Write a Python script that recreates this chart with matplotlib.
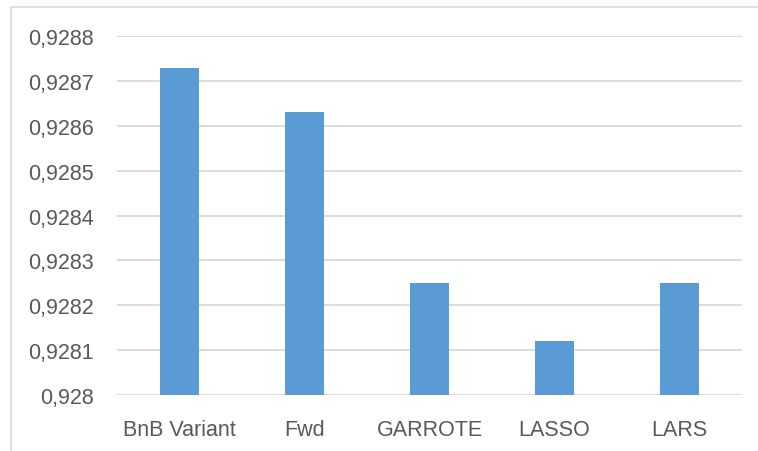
import matplotlib.pyplot as plt
from matplotlib.patches import Rectangle
from matplotlib.ticker import FuncFormatter

methods = ["BnB Variant", "Fwd", "GARROTE", "LASSO", "LARS"]
scores = [0.928729, 0.92863, 0.92825, 0.92812, 0.92825]
y_ticks = [0.928, 0.9281, 0.9282, 0.9283, 0.9284, 0.9285, 0.9286, 0.9287, 0.9288]

plt.rcParams['font.family'] = ['Liberation Sans', 'DejaVu Sans']

fig = plt.figure(figsize=(7.58, 4.52), dpi=100)
W, H = 758, 452
ax = fig.add_axes([117 / W, 1 - 396 / H, 625 / W, (396 - 37) / H])

x = range(len(methods))
ax.bar(x, scores, width=0.31, color="#5b9bd5", zorder=3)

ax.set_xlim(-0.5, len(methods) - 0.5)
ax.set_ylim(y_ticks[0], y_ticks[-1])
ax.set_yticks(y_ticks)
ax.yaxis.set_major_formatter(FuncFormatter(lambda v, p: f"{v:.4f}".rstrip("0").replace(".", ",")))
ax.set_xticks(list(x))
ax.set_xticklabels(methods)

ax.grid(axis="y", color="#d9d9d9", linewidth=1.3, zorder=0)
ax.tick_params(axis="both", length=0, labelsize=15.5, labelcolor="#595959")
ax.tick_params(axis="y", pad=17)
ax.tick_params(axis="x", pad=17)
for s in ax.spines.values():
    s.set_visible(False)

# outer chart frame
fig.patches.append(Rectangle((11 / W, -0.1), 1.5, 1 - 7.5 / H + 0.1,
                             transform=fig.transFigure, fill=False,
                             edgecolor="#d9d9d9", linewidth=1.2))

fig.savefig("out.png", dpi=100)
